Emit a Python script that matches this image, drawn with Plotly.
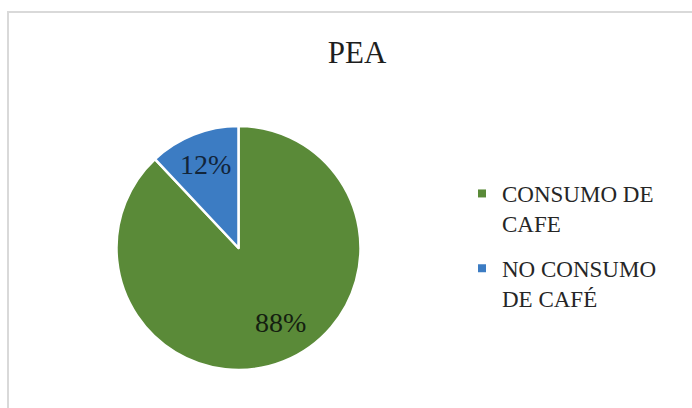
import math
import plotly.graph_objects as go

categories = ["CONSUMO DE<br>CAFE", "NO CONSUMO<br>DE CAFÉ"]
values = [88, 12]
colors = ["#5A8A38", "#3C7CC3"]
title_text = "PEA"

W, H = 692, 408
FONT = "Liberation Serif"

fig = go.Figure()

# pie (center ~ (238.5, 248) px, radius ~122 px)
cx, cy, r = 238.5, 248, 122
fig.add_trace(go.Pie(
    labels=categories,
    values=values,
    sort=False,
    direction="clockwise",
    rotation=0,
    marker=dict(colors=colors, line=dict(color="white", width=2.5)),
    textinfo="none",
    showlegend=False,
    hoverinfo="label+percent",
    domain=dict(x=[(cx - r) / W, (cx + r) / W],
                y=[(H - cy - r) / H, (H - cy + r) / H]),
))

# percentage labels positioned along each slice's mid-angle
total = sum(values)
cum = 0.0
label_r = [0.70, 0.74]
label_shift_deg = [-8, 0]
annotations = []
for i, v in enumerate(values):
    mid = (cum + v / 2) / total * 2 * math.pi + math.radians(label_shift_deg[i])
    cum += v
    px = cx + label_r[i] * r * math.sin(mid)
    py = cy - label_r[i] * r * math.cos(mid)
    annotations.append(dict(
        x=px / W, y=(H - py) / H, xref="paper", yref="paper",
        text=f"{v / total * 100:.0f}%", showarrow=False,
        xanchor="center", yanchor="middle",
        font=dict(family=FONT, size=28, color="#142010" if i == 0 else "#12253a"),
    ))

# legend entries (small square markers)
for name, col in zip(categories, colors):
    fig.add_trace(go.Scatter(
        x=[None], y=[None], mode="markers", name=name,
        marker=dict(symbol="square", size=8, color=col),
        legendgroup=name,
    ))

fig.update_layout(
    width=W, height=H,
    margin=dict(l=0, r=0, t=0, b=0),
    paper_bgcolor="white",
    plot_bgcolor="white",
    xaxis=dict(visible=False),
    yaxis=dict(visible=False),
    title=dict(text=title_text, x=357 / W, y=(H - 52) / H,
               xanchor="center", yanchor="middle",
               font=dict(family=FONT, size=31, color="#1e1e1e")),
    legend=dict(x=462 / W, y=(H - 172) / H, xanchor="left", yanchor="top",
                font=dict(family=FONT, size=23, color="#262626"),
                tracegroupgap=12, itemsizing="trace", valign="top",
                bgcolor="rgba(0,0,0,0)"),
    annotations=annotations,
    shapes=[dict(type="rect", xref="paper", yref="paper",
                 x0=8 / W, x1=1.3, y0=-0.3, y1=(H - 12) / H,
                 line=dict(color="#d9d9d9", width=2))],
)

fig.write_html("out.html")
